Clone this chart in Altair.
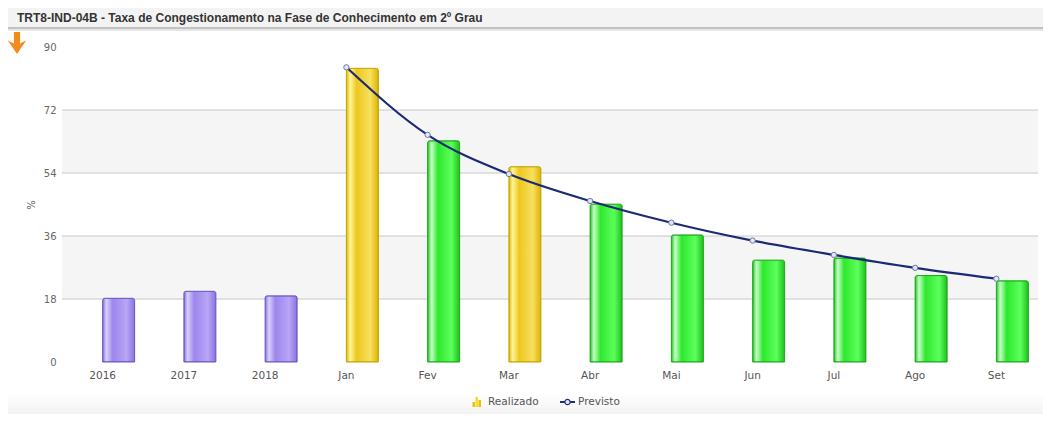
import altair as alt
import pandas as pd

categories = ["2016", "2017", "2018", "Jan", "Fev", "Mar", "Abr", "Mai", "Jun", "Jul", "Ago", "Set"]
realizado = [18.2, 20.2, 18.9, 83.9, 63.2, 55.8, 45.1, 36.3, 29.1, 29.7, 24.7, 23.2]
situacao = ["hist", "hist", "hist", "amarelo", "verde", "amarelo", "verde", "verde", "verde", "verde", "verde", "verde"]
previsto = [None, None, None, 84.2, 64.9, 53.7, 46.0, 39.8, 34.7, 30.6, 26.9, 23.8]
y_ticks = [0, 18, 36, 54, 72, 90]
bands = [(18, 36), (54, 72)]
grid_vals = [18, 36, 54, 72]

title_text = "TRT8-IND-04B - Taxa de Congestionamento na Fase de Conhecimento em 2º Grau"

W, H = 975, 315
FONT = "DejaVu Sans"

df = pd.DataFrame({"cat": categories, "real": realizado, "sit": situacao, "prev": previsto})
df_line = df.dropna(subset=["prev"])
df_bands = pd.DataFrame({"y0": [b[0] for b in bands], "y1": [b[1] for b in bands]})
df_grid = pd.DataFrame({"v": grid_vals})
one = pd.DataFrame({"k": [0]})

yscale = alt.Scale(domain=[0, 90], nice=False, zero=True)
xscale = alt.Scale(domain=categories, paddingInner=0, paddingOuter=0)

x_axis = alt.Axis(title=None, labelAngle=0, domain=False, ticks=False,
                  labelFont=FONT, labelFontSize=10.5, labelColor="#555",
                  labelPadding=8, grid=False)
y_axis = alt.Axis(title=None, values=y_ticks, grid=False, domain=False, ticks=False,
                  labelFont=FONT, labelFontSize=10, labelColor="#666",
                  labelPadding=6)


def X(field="cat"):
    return alt.X(f"{field}:N", sort=categories, scale=xscale, axis=x_axis)


def Y(field):
    return alt.Y(f"{field}:Q", scale=yscale, axis=y_axis)


def grad(edge, hi, base, base2, edge2):
    return alt.Gradient(
        gradient="linear", x1=0, x2=1, y1=0, y2=0,
        stops=[
            alt.GradientStop(color=edge, offset=0),
            alt.GradientStop(color=hi, offset=0.12),
            alt.GradientStop(color=base, offset=0.32),
            alt.GradientStop(color=base2, offset=0.75),
            alt.GradientStop(color=edge2, offset=1),
        ],
    )


fills = {
    "hist": (grad("#8a72e0", "#d8d0fc", "#9d86ec", "#b8a6f6", "#8b73e0"), "#6a55c4"),
    "amarelo": (grad("#e0b800", "#fff59a", "#ecc81e", "#f8e060", "#dcb400"), "#c6a200"),
    "verde": (grad("#1ec81e", "#c8ffc8", "#2ee82e", "#5cff5c", "#1ec01e"), "#18a818"),
}

base = alt.Chart(df)

band_layer = alt.Chart(df_bands).mark_rect(color="#f5f5f5").encode(
    x=alt.value(0), x2=alt.value(W + 1), y=Y("y0"), y2="y1:Q")
grid_layer = alt.Chart(df_grid).mark_rule(color="#c8c8c8", strokeWidth=1).encode(
    x=alt.value(0), x2=alt.value(W + 1), y=Y("v"))

bar_layers = []
for key in ["hist", "amarelo", "verde"]:
    fill, stroke = fills[key]
    bar_layers.append(
        base.transform_filter(alt.datum.sit == key)
        .mark_bar(width=32, xOffset=16, color=fill, stroke=stroke, strokeWidth=1,
                  cornerRadiusTopLeft=2, cornerRadiusTopRight=2)
        .encode(x=X(), y=Y("real"))
    )

line_layer = alt.Chart(df_line).mark_line(color="#1c2a74", strokeWidth=2.2, interpolate="monotone").encode(
    x=X(), y=Y("prev"))
point_layer = alt.Chart(df_line).mark_point(shape="circle", filled=True, size=28, fill="#e4e6f2",
                                            stroke="#6d78a8", strokeWidth=1, opacity=1).encode(
    x=X(), y=Y("prev"))

# header
header_bg = alt.Chart(one).mark_rect(color="#f3f3f3").encode(
    x=alt.value(-54), x2=alt.value(W + 10), y=alt.value(-41), y2=alt.value(-20))
header_line = alt.Chart(one).mark_rect(color="#c2c2c2").encode(
    x=alt.value(-54), x2=alt.value(W + 10), y=alt.value(-20), y2=alt.value(-18))
header_line2 = alt.Chart(one).mark_rect(color="#e6e6e6").encode(
    x=alt.value(-54), x2=alt.value(W + 10), y=alt.value(-18), y2=alt.value(-16))
title_layer = alt.Chart(one).mark_text(
    text=title_text, align="left", baseline="middle", font="Liberation Sans",
    fontSize=12, fontWeight="bold", color="#333").encode(x=alt.value(-45), y=alt.value(-29))
arrow_path = "M-0.28,-1 L0.28,-1 L0.28,0.05 L0.85,-0.25 L0,1 L-0.85,-0.25 L-0.28,0.05 Z"
arrow_layer = alt.Chart(one).mark_point(
    shape=arrow_path, filled=True, size=480, color="#f08c1e", opacity=1).encode(
    x=alt.value(-45), y=alt.value(-4))
ytitle = alt.Chart(one).mark_text(
    text="%", angle=270, align="center", baseline="middle", font=FONT, fontSize=10,
    color="#555").encode(x=alt.value(-30), y=alt.value(158))

# footer
footer_bg = alt.Chart(one).mark_rect(
    color=alt.Gradient(gradient="linear", x1=0, x2=0, y1=0, y2=1,
                       stops=[alt.GradientStop(color="#ffffff", offset=0),
                              alt.GradientStop(color="#f3f3f3", offset=1)])).encode(
    x=alt.value(-54), x2=alt.value(W + 10), y=alt.value(346), y2=alt.value(367))

# legend
leg_y = 355
legend_icons = [
    alt.Chart(one).mark_rect(color=c).encode(
        x=alt.value(x0), x2=alt.value(x0 + 2.5), y=alt.value(leg_y + 5 - h), y2=alt.value(leg_y + 5))
    for x0, h, c in [(410.5, 5, "#e8c400"), (413.5, 10, "#f5dc30"), (416.5, 7, "#e8c400")]
]
legend_t1 = alt.Chart(one).mark_text(
    text="Realizado", align="left", baseline="middle", font=FONT, fontSize=10.5,
    color="#555").encode(x=alt.value(426), y=alt.value(leg_y))
legend_line = alt.Chart(one).mark_rule(color="#1f2d78", strokeWidth=2).encode(
    x=alt.value(498), x2=alt.value(513), y=alt.value(leg_y))
legend_pt = alt.Chart(one).mark_point(shape="circle", filled=True, size=28, fill="#e4e6f2",
                                      stroke="#1f2d78", strokeWidth=1.2, opacity=1).encode(
    x=alt.value(505.5), y=alt.value(leg_y))
legend_t2 = alt.Chart(one).mark_text(
    text="Previsto", align="left", baseline="middle", font=FONT, fontSize=10.5,
    color="#555").encode(x=alt.value(516), y=alt.value(leg_y))

chart = alt.layer(
    band_layer, grid_layer, *bar_layers, line_layer, point_layer,
    header_bg, header_line, header_line2, footer_bg,
    title_layer, arrow_layer, ytitle,
    *legend_icons, legend_t1, legend_line, legend_pt, legend_t2,
).properties(
    width=W, height=H,
    autosize=alt.AutoSizeParams(type="none"),
    padding={"left": 54, "top": 39, "right": 6, "bottom": 52},
).configure(background="#ffffff").configure_view(stroke=None)

chart.save("out.html", embed_options={"renderer": "svg", "actions": False})
